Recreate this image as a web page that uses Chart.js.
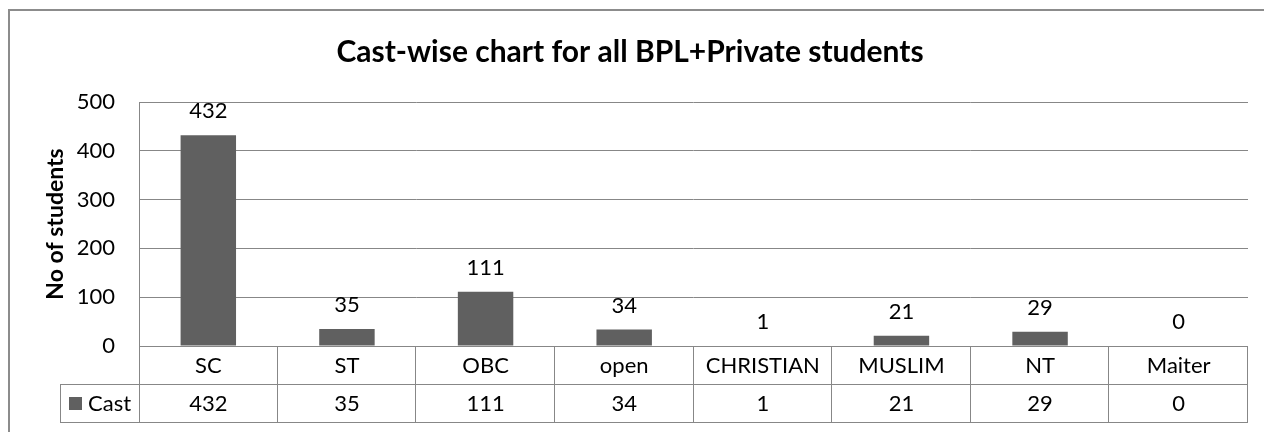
<!DOCTYPE html>
<html>
<head>
<meta charset="utf-8">
<script src="https://cdn.jsdelivr.net/npm/chart.js@4"></script>
<style>
  html, body { margin: 0; padding: 0; background: #fff; }
  #wrap { width: 1264px; height: 432px; position: relative; }
</style>
</head>
<body>
<div id="wrap"><canvas id="castChart"></canvas></div>
<script>
const chartTitle = 'Cast-wise chart for all BPL+Private students';
const categories = ['SC', 'ST', 'OBC', 'open', 'CHRISTIAN', 'MUSLIM', 'NT', 'Maiter'];
const castValues = [432, 35, 111, 34, 1, 21, 29, 0];
const seriesName = 'Cast';
const yTicks = [0, 100, 200, 300, 400, 500];

const FONT = 'Lato, "Open Sans", sans-serif';
const barColor = '#606060';
const lineColor = '#878787';

// title, outer frame, data labels and the data table under the plot
const excelBits = {
    id: 'excelBits',
    afterDatasetsDraw(chart) {
        const ctx = chart.ctx;
        const meta = chart.getDatasetMeta(0);
        ctx.save();
        ctx.fillStyle = '#000';
        ctx.font = '22px ' + FONT;
        ctx.textAlign = 'center';
        ctx.textBaseline = 'middle';
        meta.data.forEach((bar, i) => {
            ctx.fillText(String(castValues[i]), bar.x, bar.y - 24);
        });
        ctx.restore();
    },
    afterDraw(chart) {
        const ctx = chart.ctx;
        const area = chart.chartArea;
        const x = chart.scales.x;
        ctx.save();

        // outer frame
        ctx.strokeStyle = '#8c8c8c';
        ctx.lineWidth = 2;
        ctx.beginPath();
        ctx.moveTo(9, 432);
        ctx.lineTo(9, 10);
        ctx.lineTo(1264, 10);
        ctx.stroke();

        // title
        ctx.fillStyle = '#000';
        ctx.font = 'bold 30px ' + FONT;
        ctx.textAlign = 'center';
        ctx.textBaseline = 'middle';
        ctx.fillText(chartTitle, 630, 52);

        // data table
        const rowH = 38;
        const top = area.bottom;
        const mid = top + rowH;
        const bot = mid + rowH;
        const legendLeft = 60;
        ctx.strokeStyle = lineColor;
        ctx.lineWidth = 1;
        ctx.beginPath();
        ctx.moveTo(area.left + 0.5, area.top);
        ctx.lineTo(area.left + 0.5, bot);
        ctx.moveTo(area.left, top + 0.5);
        ctx.lineTo(area.right, top + 0.5);
        ctx.moveTo(legendLeft, mid + 0.5);
        ctx.lineTo(area.right, mid + 0.5);
        ctx.moveTo(legendLeft, bot + 0.5);
        ctx.lineTo(area.right, bot + 0.5);
        ctx.moveTo(legendLeft + 0.5, mid);
        ctx.lineTo(legendLeft + 0.5, bot);
        const step = (area.right - area.left) / categories.length;
        for (let i = 1; i <= categories.length; i++) {
            const lx = Math.round(area.left + step * i) - 0.5;
            ctx.moveTo(lx, top);
            ctx.lineTo(lx, bot);
        }
        ctx.stroke();

        ctx.font = '22px ' + FONT;
        ctx.fillStyle = '#000';
        categories.forEach((c, i) => {
            const cx = x.getPixelForValue(i);
            ctx.fillText(c, cx, top + rowH / 2 + 1);
            ctx.fillText(String(castValues[i]), cx, mid + rowH / 2 + 1);
        });

        // legend key in table
        ctx.fillStyle = barColor;
        ctx.fillRect(69, mid + 13, 13, 13);
        ctx.fillStyle = '#000';
        ctx.textAlign = 'left';
        ctx.fillText(seriesName, 88, mid + rowH / 2 + 1);
        ctx.restore();
    }
};

new Chart(document.getElementById('castChart'), {
    type: 'bar',
    data: {
        labels: categories,
        datasets: [{
            label: seriesName,
            data: castValues,
            backgroundColor: barColor,
            borderWidth: 0,
            categoryPercentage: 1,
            barPercentage: 0.4
        }]
    },
    options: {
        responsive: true,
        maintainAspectRatio: false,
        animation: false,
        layout: { padding: { left: 0, right: 16, top: 102, bottom: 86 } },
        plugins: {
            legend: { display: false },
            tooltip: { enabled: false }
        },
        scales: {
            x: { display: false },
            y: {
                min: 0,
                max: 500,
                afterBuildTicks: (scale) => { scale.ticks = yTicks.map(v => ({ value: v })); },
                afterFit: (scale) => { scale.width = 139; },
                border: { display: false },
                grid: { color: lineColor, drawTicks: false },
                ticks: {
                    padding: 24,
                    color: '#000',
                    font: { family: FONT, size: 22 }
                },
                title: {
                    display: true,
                    text: 'No of students',
                    color: '#000',
                    padding: { top: 42, bottom: 0 },
                    font: { family: FONT, size: 23, weight: 'bold' }
                }
            }
        }
    },
    plugins: [excelBits]
});
</script>
</body>
</html>
